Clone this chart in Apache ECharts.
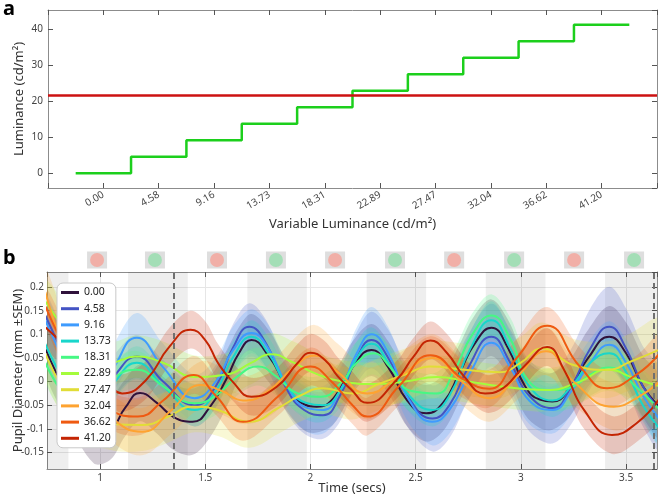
<!DOCTYPE html>
<html><head><meta charset="utf-8">
<script src="https://cdn.jsdelivr.net/npm/echarts@6/dist/echarts.min.js"></script>
<style>html,body{margin:0;padding:0;background:#fff}#c{width:660px;height:498px}</style>
</head><body><div id="c"></div>
<script>
// ---------- Panel a data ----------
const lumLabels = ['0.00','4.58','9.16','13.73','18.31','22.89','27.47','32.04','36.62','41.20'];
const lumValues = [0, 4.58, 9.16, 13.73, 18.31, 22.89, 27.47, 32.04, 36.62, 41.20];
const constantLuminance = 21.7;

// ---------- Panel b data: rows are [time (s), mean pupil (mm), SEM (mm)] ----------
const pupil_000 = [[0.74,0.070,0.05],[0.85,-0.030,0.055],[0.97,-0.108,0.065],[1.05,-0.100,0.065],[1.12,-0.055,0.06],[1.19,-0.024,0.06],[1.27,-0.045,0.065],[1.35,-0.075,0.07],[1.44,-0.085,0.07],[1.52,-0.055,0.065],[1.60,0.005,0.06],[1.66,0.060,0.055],[1.72,0.088,0.055],[1.80,0.055,0.055],[1.89,-0.010,0.055],[1.97,-0.048,0.055],[2.03,-0.053,0.055],[2.11,-0.035,0.055],[2.20,0.030,0.055],[2.29,0.067,0.055],[2.37,0.030,0.055],[2.46,-0.040,0.055],[2.55,-0.067,0.06],[2.63,-0.045,0.06],[2.71,0.020,0.06],[2.78,0.080,0.06],[2.86,0.114,0.06],[2.94,0.070,0.06],[3.02,-0.010,0.06],[3.09,-0.038,0.06],[3.15,-0.042,0.06],[3.23,-0.015,0.06],[3.32,0.050,0.06],[3.42,0.095,0.065],[3.50,0.060,0.065],[3.58,-0.010,0.065],[3.66,-0.055,0.065]];
const pupil_458 = [[0.74,0.140,0.045],[0.85,0.040,0.045],[0.95,-0.030,0.045],[1.05,0.005,0.045],[1.175,0.053,0.045],[1.30,0.000,0.045],[1.45,-0.050,0.045],[1.55,-0.010,0.045],[1.63,0.070,0.05],[1.71,0.116,0.05],[1.79,0.080,0.05],[1.88,-0.010,0.05],[1.97,-0.060,0.05],[2.06,-0.071,0.05],[2.14,-0.030,0.055],[2.22,0.050,0.055],[2.29,0.088,0.06],[2.37,0.050,0.06],[2.46,-0.030,0.065],[2.58,-0.078,0.07],[2.66,-0.050,0.07],[2.75,0.030,0.07],[2.86,0.095,0.07],[2.95,0.040,0.07],[3.04,-0.030,0.075],[3.15,-0.056,0.075],[3.24,-0.010,0.08],[3.33,0.070,0.085],[3.42,0.116,0.085],[3.50,0.070,0.085],[3.58,-0.010,0.085],[3.66,-0.060,0.085]];
const pupil_916 = [[0.74,0.130,0.05],[0.85,0.030,0.05],[0.95,-0.030,0.05],[1.05,0.020,0.05],[1.175,0.093,0.052],[1.30,0.030,0.05],[1.45,-0.035,0.05],[1.55,0.000,0.05],[1.63,0.065,0.05],[1.72,0.103,0.05],[1.80,0.070,0.05],[1.89,-0.010,0.05],[1.98,-0.055,0.05],[2.06,-0.060,0.05],[2.14,-0.020,0.05],[2.22,0.060,0.055],[2.29,0.100,0.058],[2.37,0.060,0.055],[2.47,-0.040,0.05],[2.58,-0.085,0.05],[2.66,-0.060,0.05],[2.76,0.020,0.05],[2.86,0.082,0.05],[2.95,0.030,0.05],[3.04,-0.040,0.05],[3.15,-0.060,0.05],[3.24,-0.020,0.05],[3.33,0.040,0.05],[3.42,0.078,0.05],[3.50,0.040,0.05],[3.58,-0.030,0.05],[3.66,-0.080,0.05]];
const pupil_1373 = [[0.74,0.080,0.035],[0.85,-0.010,0.035],[0.95,-0.050,0.035],[1.05,-0.010,0.035],[1.175,0.040,0.035],[1.30,-0.010,0.035],[1.45,-0.060,0.035],[1.55,-0.020,0.035],[1.63,0.050,0.035],[1.72,0.095,0.035],[1.80,0.060,0.035],[1.89,-0.010,0.035],[1.98,-0.045,0.035],[2.06,-0.050,0.035],[2.14,-0.020,0.035],[2.22,0.050,0.035],[2.29,0.080,0.035],[2.37,0.040,0.035],[2.47,-0.030,0.035],[2.58,-0.060,0.035],[2.66,-0.030,0.035],[2.76,0.070,0.035],[2.86,0.130,0.04],[2.95,0.070,0.035],[3.04,-0.010,0.035],[3.15,-0.040,0.035],[3.24,-0.010,0.035],[3.33,0.040,0.035],[3.42,0.060,0.035],[3.50,0.020,0.035],[3.58,-0.050,0.035],[3.66,-0.100,0.035]];
const pupil_1831 = [[0.74,0.040,0.04],[0.85,-0.040,0.04],[0.95,-0.070,0.04],[1.05,0.000,0.04],[1.175,0.025,0.04],[1.30,-0.010,0.04],[1.45,-0.046,0.04],[1.55,-0.030,0.04],[1.65,0.010,0.04],[1.75,0.032,0.04],[1.84,0.010,0.04],[1.94,-0.025,0.04],[2.05,-0.032,0.045],[2.15,0.000,0.045],[2.22,0.040,0.045],[2.30,0.060,0.045],[2.38,0.030,0.045],[2.48,-0.020,0.045],[2.60,-0.025,0.045],[2.68,0.020,0.045],[2.77,0.100,0.045],[2.86,0.140,0.045],[2.95,0.090,0.045],[3.04,0.000,0.045],[3.15,-0.018,0.045],[3.25,-0.010,0.045],[3.33,0.015,0.045],[3.42,0.030,0.045],[3.52,0.000,0.045],[3.66,-0.060,0.045]];
const pupil_2289 = [[0.74,0.170,0.045],[0.90,0.080,0.045],[1.05,0.040,0.045],[1.17,0.053,0.045],[1.30,0.040,0.045],[1.45,0.010,0.045],[1.60,0.015,0.045],[1.72,0.040,0.045],[1.81,0.058,0.045],[1.92,0.040,0.045],[2.02,0.018,0.045],[2.15,0.000,0.045],[2.30,-0.005,0.045],[2.45,0.000,0.045],[2.60,0.010,0.045],[2.75,0.000,0.045],[2.90,-0.010,0.045],[3.00,-0.015,0.045],[3.12,-0.018,0.045],[3.28,0.000,0.045],[3.41,0.025,0.045],[3.55,0.005,0.045],[3.66,-0.010,0.045]];
const pupil_2747 = [[0.74,0.060,0.055],[0.90,-0.060,0.055],[1.05,-0.090,0.055],[1.20,-0.092,0.055],[1.32,-0.075,0.055],[1.44,-0.053,0.055],[1.56,-0.060,0.055],[1.71,-0.085,0.055],[1.85,-0.055,0.055],[1.95,-0.030,0.055],[2.06,-0.014,0.055],[2.20,-0.025,0.055],[2.33,-0.004,0.055],[2.45,0.015,0.055],[2.57,0.032,0.055],[2.73,0.025,0.055],[2.90,0.020,0.055],[3.00,0.040,0.055],[3.10,0.070,0.055],[3.25,0.035,0.055],[3.41,0.025,0.06],[3.52,0.042,0.06],[3.66,0.068,0.065]];
const pupil_3204 = [[0.74,0.190,0.05],[0.90,0.000,0.05],[1.05,-0.075,0.05],[1.20,-0.106,0.05],[1.34,-0.060,0.05],[1.48,-0.007,0.05],[1.58,-0.020,0.05],[1.68,-0.040,0.05],[1.80,-0.020,0.055],[1.92,0.030,0.06],[2.02,0.055,0.065],[2.13,0.020,0.06],[2.27,-0.025,0.055],[2.42,0.010,0.05],[2.58,0.050,0.05],[2.72,0.000,0.05],[2.85,-0.035,0.05],[2.98,0.010,0.05],[3.12,0.064,0.05],[3.25,0.000,0.05],[3.44,-0.053,0.05],[3.55,-0.035,0.05],[3.66,0.000,0.05]];
const pupil_3662 = [[0.74,0.160,0.04],[0.90,0.020,0.04],[1.05,-0.060,0.04],[1.18,-0.074,0.04],[1.30,-0.040,0.04],[1.445,0.014,0.04],[1.55,-0.030,0.04],[1.68,-0.085,0.04],[1.85,-0.030,0.04],[2.00,0.032,0.04],[2.10,0.000,0.04],[2.20,-0.050,0.04],[2.27,-0.074,0.04],[2.42,-0.010,0.04],[2.57,0.056,0.04],[2.73,0.004,0.04],[2.85,-0.015,0.04],[2.98,0.050,0.04],[3.125,0.118,0.04],[3.28,0.032,0.04],[3.41,-0.014,0.04],[3.55,0.015,0.04],[3.66,0.060,0.04]];
const pupil_4120 = [[0.74,0.115,0.04],[0.90,0.050,0.04],[1.05,-0.011,0.04],[1.105,-0.025,0.04],[1.22,0.004,0.04],[1.33,0.074,0.04],[1.43,0.110,0.04],[1.50,0.088,0.04],[1.56,0.040,0.04],[1.63,0.000,0.04],[1.72,-0.032,0.04],[1.84,-0.011,0.04],[1.94,0.040,0.04],[2.00,0.061,0.04],[2.07,0.045,0.04],[2.13,0.011,0.04],[2.19,-0.015,0.04],[2.27,-0.045,0.04],[2.41,0.004,0.04],[2.49,0.053,0.04],[2.57,0.087,0.04],[2.65,0.060,0.04],[2.73,0.011,0.04],[2.83,-0.025,0.04],[2.90,-0.018,0.04],[3.015,0.032,0.04],[3.125,0.073,0.04],[3.205,0.025,0.04],[3.30,-0.060,0.04],[3.433,-0.113,0.04],[3.55,-0.088,0.04],[3.66,-0.035,0.04]];
const pupilSeries = [pupil_000, pupil_458, pupil_916, pupil_1373, pupil_1831, pupil_2289, pupil_2747, pupil_3204, pupil_3662, pupil_4120];
const seriesColors = ['#30123b','#4454c4','#3e9bfe','#18d6cb','#46f884','#a4fc3c','#e1dd37','#fea331','#ef5a11','#c42503'];

// green-stimulus phases (s), marker lines (s), stimulus indicators (s)
const greenPhases = [[0.567,0.850],[1.133,1.417],[1.700,1.983],[2.267,2.550],[2.833,3.117],[3.400,3.683]];
const dashedTimes = [1.352, 3.635];
const indicatorTimes = [0.986, 1.261, 1.556, 1.836, 2.117, 2.402, 2.683, 2.968, 3.253, 3.538];
const indicatorKinds = ['red','green','red','green','red','green','red','green','red','green'];

const FONT = 'Noto Sans';
const tickColor = '#555';
const boxColor = '#8c8c8c';

function boxAxis(base, extra) { return Object.assign({
  axisLine: {show: true, onZero: false, lineStyle: {color: boxColor, width: 1}},
  axisTick: {show: true, inside: true, length: 5, lineStyle: {color: tickColor}},
  splitLine: {show: false},
  nameMoveOverlap: false
}, base, extra); }

const chart = echarts.init(document.getElementById('c'), null, {renderer: 'canvas'});

const xAxes = [
  boxAxis({gridIndex: 0, type: 'value', min: -1, max: 10, interval: 1, position: 'bottom',
    axisLabel: {rotate: 30, margin: 6, fontSize: 10, color: '#444', fontFamily: FONT,
      formatter: v => (v >= 0 && v < lumLabels.length && Number.isInteger(v)) ? lumLabels[v] : ''},
    name: 'Variable Luminance (cd/m²)', nameLocation: 'middle', nameGap: 30,
    nameTextStyle: {fontSize: 13, color: '#333', fontFamily: FONT}}),
  boxAxis({gridIndex: 0, type: 'value', min: -1, max: 10, interval: 1, position: 'top', axisLabel: {show: false}}),
  boxAxis({gridIndex: 1, type: 'value', min: 0.748, max: 3.647, minInterval: 0.5, maxInterval: 0.5, splitNumber: 6, position: 'bottom',
    axisLabel: {showMinLabel: false, showMaxLabel: false, margin: 4, fontSize: 10, color: '#444', fontFamily: FONT},
    splitLine: {show: true, lineStyle: {color: '#e6e6e6', width: 1}},
    name: 'Time (secs)', nameLocation: 'middle', nameGap: 13,
    nameTextStyle: {fontSize: 13, color: '#333', fontFamily: FONT}}),
  boxAxis({gridIndex: 1, type: 'value', min: 0.748, max: 3.647, minInterval: 0.5, maxInterval: 0.5, splitNumber: 6, position: 'top', axisLabel: {show: false}}),
  {gridIndex: 2, type: 'value', min: 0.748, max: 3.647, show: false}
];
const yAxes = [
  boxAxis({gridIndex: 0, type: 'value', min: -4.12, max: 45.32, minInterval: 10, maxInterval: 10, splitNumber: 5, position: 'left',
    axisLabel: {showMinLabel: false, showMaxLabel: false, margin: 5, fontSize: 10, color: '#444', fontFamily: FONT},
    name: 'Luminance (cd/m²)', nameLocation: 'middle', nameGap: 22,
    nameTextStyle: {fontSize: 13, color: '#333', fontFamily: FONT}}),
  boxAxis({gridIndex: 0, type: 'value', min: -4.12, max: 45.32, minInterval: 10, maxInterval: 10, splitNumber: 5, position: 'right', axisLabel: {show: false}}),
  boxAxis({gridIndex: 1, type: 'value', min: -0.185, max: 0.232, minInterval: 0.05, maxInterval: 0.05, splitNumber: 8, position: 'left',
    axisLabel: {showMinLabel: false, showMaxLabel: false, margin: 3, fontSize: 10, color: '#444', fontFamily: FONT},
    splitLine: {show: true, lineStyle: {color: '#e6e6e6', width: 1}},
    name: 'Pupil Diameter (mm ±SEM)', nameLocation: 'middle', nameGap: 22,
    nameTextStyle: {fontSize: 13, color: '#333', fontFamily: FONT}}),
  boxAxis({gridIndex: 1, type: 'value', min: -0.185, max: 0.232, minInterval: 0.05, maxInterval: 0.05, splitNumber: 8, position: 'right', axisLabel: {show: false}}),
  {gridIndex: 2, type: 'value', min: 0, max: 1, show: false}
];

const series = [];
// Panel a: stepped luminance
const stepData = lumValues.map((v, i) => [i - 0.5, v]);
stepData.push([lumValues.length - 0.5, lumValues[lumValues.length - 1]]);
series.push({type: 'line', xAxisIndex: 0, yAxisIndex: 0, step: 'end', data: stepData, showSymbol: false, silent: true,
  lineStyle: {color: '#1ccf1c', width: 2.5}, itemStyle: {color: '#1ccf1c'},
  markLine: {silent: true, symbol: 'none', label: {show: false}, lineStyle: {color: '#cc1111', width: 2.5, type: 'solid'},
    data: [{yAxis: constantLuminance}]}});

// Panel b: grey stimulus bands
series.push({type: 'line', xAxisIndex: 2, yAxisIndex: 2, data: [], z: 1, silent: true,
  markArea: {silent: true, itemStyle: {color: 'rgba(0,0,0,0.065)'},
    data: greenPhases.map(p => [{xAxis: p[0]}, {xAxis: p[1]}])}});

// SEM bands as polygons through the axes' scales
pupilSeries.forEach((arr, k) => {
  series.push({type: 'custom', coordinateSystem: 'cartesian2d', xAxisIndex: 2, yAxisIndex: 2, silent: true, z: 2, clip: true,
    data: [0],
    renderItem: (params, api) => {
      const up = arr.map(r => api.coord([r[0], r[1] + r[2]]));
      const lo = arr.map(r => api.coord([r[0], r[1] - r[2]])).reverse();
      return {type: 'polygon', shape: {points: up.concat(lo), smooth: 0.35},
        style: {fill: seriesColors[k], opacity: 0.21}};
    }});
});
// mean lines
pupilSeries.forEach((arr, k) => {
  series.push({type: 'line', name: lumLabels[k], xAxisIndex: 2, yAxisIndex: 2,
    data: arr.map(r => [r[0], r[1]]), smooth: 0.5, showSymbol: false, z: 4,
    lineStyle: {color: seriesColors[k], width: 2}, itemStyle: {color: seriesColors[k]}});
});
// dashed markers
series.push({type: 'line', xAxisIndex: 2, yAxisIndex: 2, data: [], z: 6, silent: true,
  markLine: {silent: true, symbol: 'none', label: {show: false},
    lineStyle: {color: '#707070', width: 2, type: [6, 4]},
    data: dashedTimes.map(t => ({xAxis: t}))}});
// stimulus indicators
series.push({type: 'scatter', xAxisIndex: 4, yAxisIndex: 4, silent: true, symbol: 'rect', symbolSize: [20, 17],
  itemStyle: {color: '#d6d6d6'}, data: indicatorTimes.map(t => [t, 0.5]), z: 2});
series.push({type: 'scatter', xAxisIndex: 4, yAxisIndex: 4, silent: true, symbol: 'circle', symbolSize: 14,
  itemStyle: {color: p => indicatorKinds[p.dataIndex] === 'red' ? '#f6a49a' : '#95dfac'},
  data: indicatorTimes.map(t => [t, 0.5]), z: 3});

chart.setOption({
  animation: false,
  textStyle: {fontFamily: FONT},
  grid: [
    {left: 48, top: 10, width: 609, height: 178, outerBoundsMode: 'none', containLabel: false},
    {left: 47, top: 272, width: 610, height: 197, outerBoundsMode: 'none', containLabel: false},
    {left: 47, top: 250, width: 610, height: 20, outerBoundsMode: 'none', containLabel: false}
  ],
  xAxis: xAxes, yAxis: yAxes,
  legend: {data: lumLabels, orient: 'vertical', left: 57, top: 283, icon: 'rect', itemWidth: 18, itemHeight: 3,
    itemGap: 5.2, padding: [4, 5, 4, 4], backgroundColor: '#fff', borderColor: '#c8c8c8', borderWidth: 1, borderRadius: 6,
    textStyle: {fontSize: 10.5, color: '#222', fontFamily: FONT}, selectedMode: false, z: 10},
  graphic: [
    {type: 'text', left: 3, top: -1, style: {text: 'a', font: 'bold 20px "Noto Sans"', fill: '#000'}},
    {type: 'text', left: 3, top: 248, style: {text: 'b', font: 'bold 20px "Noto Sans"', fill: '#000'}}
  ],
  series: series
});
</script></body></html>
